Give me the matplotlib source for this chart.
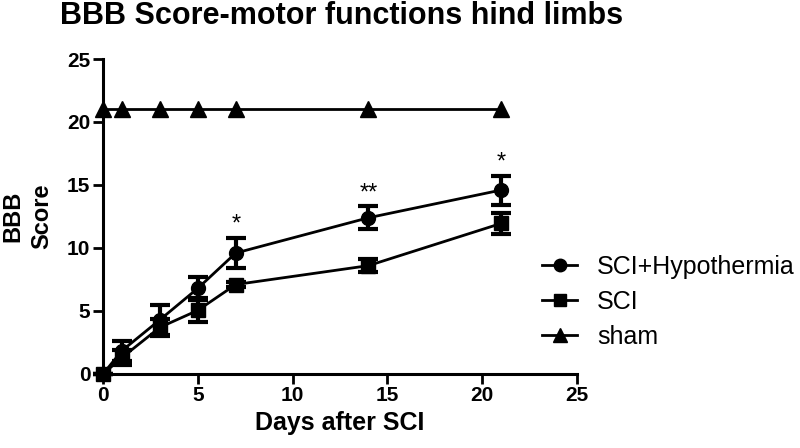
import matplotlib.pyplot as plt
from matplotlib.lines import Line2D

plt.rcParams['font.family'] = ['Liberation Sans', 'DejaVu Sans']

days = [0, 1, 3, 5, 7, 14, 21]
hypo = [0, 1.85, 4.3, 6.8, 9.6, 12.4, 14.6]
hypo_err = [0, 0.8, 1.2, 0.9, 1.2, 0.9, 1.15]
sci = [0, 1.3, 3.7, 5.05, 7.1, 8.6, 11.95]
sci_err = [0, 0.6, 0.7, 0.95, 0.2, 0.5, 0.8]
sham = [21, 21, 21, 21, 21, 21, 21]
stars = {7: "*", 14: "**", 21: "*"}

fig = plt.figure(figsize=(8, 4.48), dpi=100)
ax = fig.add_axes([0.12875, 0.1652, 0.5925, 0.7031])

ax.errorbar(days, hypo, yerr=hypo_err, color='black', marker='o', ms=10,
            lw=2, elinewidth=3, capsize=7, capthick=3,
            clip_on=False, zorder=3)
ax.errorbar(days, sci, yerr=sci_err, color='black', marker='s', ms=10,
            lw=2, elinewidth=3, capsize=7, capthick=3,
            clip_on=False, zorder=3)
ax.plot(days, sham, color='black', marker='^', ms=11, lw=2,
        clip_on=False, zorder=3)

for d, s in stars.items():
    i = days.index(d)
    ax.text(d, hypo[i] + hypo_err[i] + 0.15, s, ha='center', va='bottom',
            fontsize=17)

ax.set_xlim(0, 25)
ax.set_ylim(0, 25)
ax.set_xticks([0, 5, 10, 15, 20, 25])
ax.set_yticks([0, 5, 10, 15, 20, 25])
for sp in ['top', 'right']:
    ax.spines[sp].set_visible(False)
for sp in ['left', 'bottom']:
    ax.spines[sp].set_linewidth(2.2)
ax.tick_params(width=2, length=7, labelsize=15, pad=2)
for lab in ax.get_xticklabels() + ax.get_yticklabels():
    lab.set_fontweight('bold')

ax.set_xlabel('Days after SCI', fontsize=18, fontweight='bold', labelpad=4)
ax.set_ylabel('BBB\nScore', fontsize=17, fontweight='bold', linespacing=1.3)
ax.yaxis.set_label_coords(-0.105, 0.5)

fig.text(0.075, 0.997, 'BBB Score-motor functions hind limbs', fontsize=22,
         fontweight='bold', va='top', ha='left')

handles = [
    Line2D([], [], color='black', lw=2, marker='o', ms=9),
    Line2D([], [], color='black', lw=2, marker='s', ms=9),
    Line2D([], [], color='black', lw=2, marker='^', ms=10),
]
labels = ['SCI+Hypothermia', 'SCI', 'sham']
fig.legend(handles, labels, loc='center left',
           bbox_to_anchor=(0.6775, 0.326), bbox_transform=fig.transFigure,
           frameon=False, fontsize=18, handlelength=1.4, labelspacing=0.45,
           handletextpad=0.8, borderpad=0, borderaxespad=0)

fig.savefig('out.png', dpi=100)
